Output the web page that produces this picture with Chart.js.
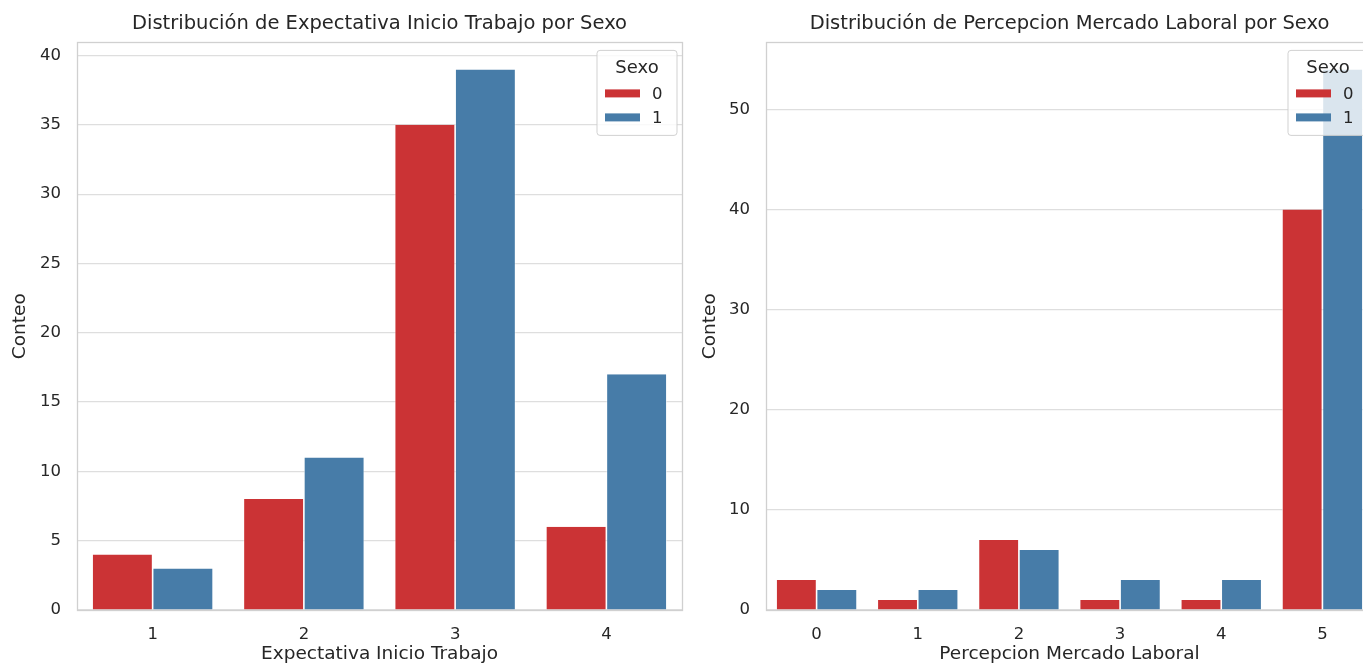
<!DOCTYPE html>
<html><head><meta charset="utf-8">
<script src="https://cdn.jsdelivr.net/npm/chart.js@4.4.1/dist/chart.umd.min.js"></script>
<style>
html,body{margin:0;padding:0;background:#fff;overflow:hidden;width:1363px;height:665px;}
#wrap{position:relative;width:1363px;height:665px;overflow:hidden;background:#fff;}
canvas{position:absolute;top:0;}
#c1{left:0;} #c2{left:690px;}
</style></head><body>
<div id="wrap"><canvas id="c1" width="690" height="665"></canvas><canvas id="c2" width="690" height="665"></canvas></div>
<script>
// ---- data ----
const leftCategories = ['1', '2', '3', '4'];
const leftSexo0 = [4, 8, 35, 6];
const leftSexo1 = [3, 11, 39, 17];
const rightCategories = ['0', '1', '2', '3', '4', '5'];
const rightSexo0 = [3, 1, 7, 1, 1, 40];
const rightSexo1 = [2, 2, 6, 3, 3, 54];
const seriesLabels = ['0', '1'];
const legendTitle = 'Sexo';
const leftTitle = 'Distribución de Expectativa Inicio Trabajo por Sexo';
const rightTitle = 'Distribución de Percepcion Mercado Laboral por Sexo';
const leftXLabel = 'Expectativa Inicio Trabajo';
const rightXLabel = 'Percepcion Mercado Laboral';
const yLabel = 'Conteo';
const leftYStep = 5;
const rightYStep = 10;

// ---- style ----
const FONT = "'DejaVu Sans', sans-serif";
const TXT = '#262626';
const RED = '#cb3335';
const BLUE = '#477ca8';

const framePlugin = {
  id: 'frame',
  afterDatasetsDraw(chart) {
    const {ctx, chartArea: a} = chart;
    ctx.save();
    ctx.strokeStyle = '#d0d0d0';
    ctx.lineWidth = 1.3;
    ctx.strokeRect(Math.round(a.left) + 0.5, Math.round(a.top) + 0.5,
                   Math.round(a.right - a.left), Math.round(a.bottom - a.top));
    ctx.restore();
  }
};

const legendPlugin = {
  id: 'sexoLegend',
  afterDraw(chart) {
    const {ctx, chartArea: a} = chart;
    const w = 80, h = 85;
    const x = a.right - 5 - w, y = a.top + 8;
    ctx.save();
    ctx.beginPath();
    const r = 3;
    ctx.moveTo(x + r, y);
    ctx.lineTo(x + w - r, y); ctx.quadraticCurveTo(x + w, y, x + w, y + r);
    ctx.lineTo(x + w, y + h - r); ctx.quadraticCurveTo(x + w, y + h, x + w - r, y + h);
    ctx.lineTo(x + r, y + h); ctx.quadraticCurveTo(x, y + h, x, y + h - r);
    ctx.lineTo(x, y + r); ctx.quadraticCurveTo(x, y, x + r, y);
    ctx.closePath();
    ctx.fillStyle = 'rgba(255,255,255,0.8)';
    ctx.fill();
    ctx.strokeStyle = 'rgba(204,204,204,0.9)';
    ctx.lineWidth = 1;
    ctx.stroke();
    ctx.fillStyle = TXT;
    ctx.font = '18px ' + FONT;
    ctx.textAlign = 'center';
    ctx.textBaseline = 'middle';
    ctx.fillText(legendTitle, x + w / 2, y + 18);
    chart.data.datasets.forEach((ds, i) => {
      const cy = y + 43 + i * 24;
      ctx.fillStyle = ds.backgroundColor;
      ctx.fillRect(x + 8, cy - 4, 35, 8);
      ctx.fillStyle = TXT;
      ctx.textAlign = 'left';
      ctx.font = '16.5px ' + FONT;
      ctx.fillText(ds.label, x + 55, cy + 1);
    });
    ctx.restore();
  }
};

function makeChart(id, cats, s0, s1, title, xLabel, step, yAxisW, padRight) {
  const maxVal = Math.max(...s0, ...s1) * 1.05;
  const edge = {left: 0.8, right: 0.8, top: 0, bottom: 0};
  return new Chart(document.getElementById(id), {
    type: 'bar',
    data: {
      labels: cats,
      datasets: [
        {label: seriesLabels[0], data: s0, backgroundColor: RED,
         borderColor: 'rgba(255,255,255,0.75)', borderWidth: edge,
         categoryPercentage: 0.8, barPercentage: 1.0},
        {label: seriesLabels[1], data: s1, backgroundColor: BLUE,
         borderColor: 'rgba(255,255,255,0.75)', borderWidth: edge,
         categoryPercentage: 0.8, barPercentage: 1.0}
      ]
    },
    options: {
      responsive: false,
      animation: false,
      devicePixelRatio: 1,
      layout: {padding: {top: 0, right: padRight, bottom: 0, left: 0}},
      plugins: {
        legend: {display: false},
        tooltip: {enabled: false},
        title: {display: true, text: title, fullSize: false, color: TXT,
                font: {family: FONT, size: 19.5, weight: 'normal'},
                padding: {top: 12, bottom: 7}}
      },
      scales: {
        x: {
          grid: {display: false, drawTicks: false},
          border: {display: false},
          ticks: {color: TXT, font: {family: FONT, size: 16.5}, padding: 15},
          title: {display: true, text: xLabel, color: TXT,
                  font: {family: FONT, size: 18.5}, padding: {top: 0, bottom: 0}},
          afterFit(s) { s.height = 55; }
        },
        y: {
          min: 0, max: maxVal,
          grid: {color: '#dedede', lineWidth: 1.2, drawTicks: false},
          border: {display: false},
          ticks: {stepSize: step, includeBounds: false, padding: 16, color: TXT,
                  font: {family: FONT, size: 16.5}},
          title: {display: true, text: yLabel, color: TXT,
                  font: {family: FONT, size: 18.5}, padding: {top: 9, bottom: 0}},
          afterFit(s) { s.width = yAxisW; }
        }
      }
    },
    plugins: [framePlugin, legendPlugin]
  });
}

makeChart('c1', leftCategories, leftSexo0, leftSexo1, leftTitle, leftXLabel, leftYStep, 77, 8);
makeChart('c2', rightCategories, rightSexo0, rightSexo1, rightTitle, rightXLabel, rightYStep, 76, 7);
</script>
</body></html>
